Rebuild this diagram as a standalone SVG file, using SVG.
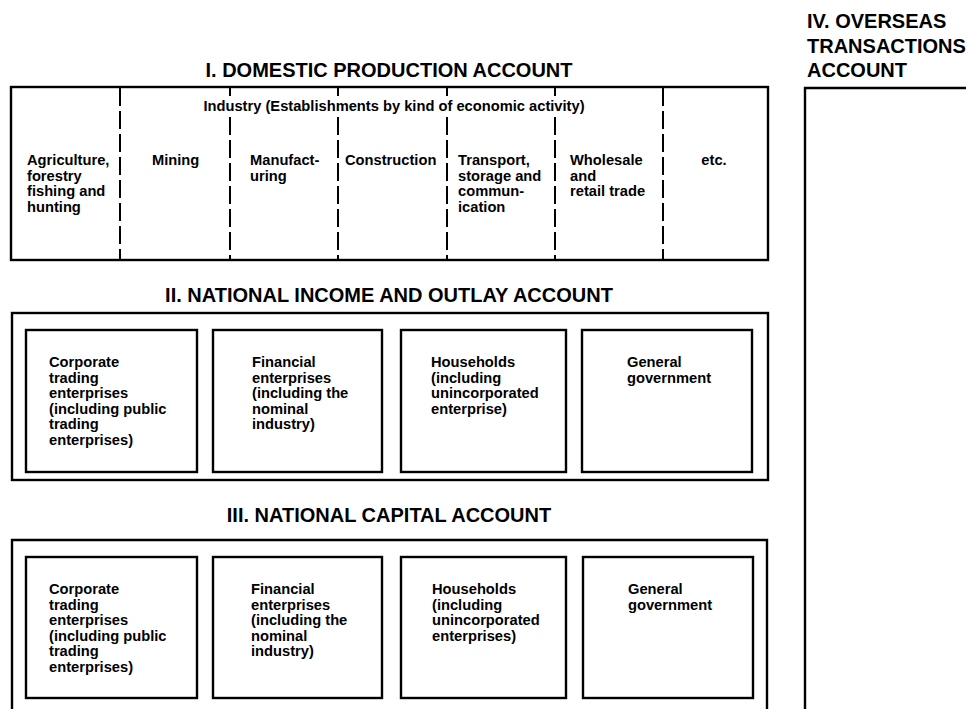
<svg xmlns="http://www.w3.org/2000/svg" width="966" height="709" viewBox="0 0 966 709">
<style>
.frame{fill:none;stroke:#000;stroke-width:2.4}
.box{fill:none;stroke:#000;stroke-width:2.4}
.div{fill:none;stroke:#000;stroke-width:2;stroke-dasharray:18 5}
.title{font-family:"Liberation Sans",Arial,sans-serif;font-weight:bold;font-size:20px;fill:#000}
.lbl{font-family:"Liberation Sans",Arial,sans-serif;font-weight:bold;font-size:14.7px;fill:#000}
</style>
<rect width="966" height="709" fill="#fff"/>

<g id="sec1">
  <text class="title" x="389" y="77" text-anchor="middle">I. DOMESTIC PRODUCTION ACCOUNT</text>
  <rect class="frame" x="11" y="87" width="757" height="173"/>
  <text class="lbl" x="394" y="111" text-anchor="middle" font-size="14">Industry (Establishments by kind of economic activity)</text>
  <path class="div" d="M120,88 V259"/>
  <path class="div" d="M230,88 V96 M230,117 V259"/>
  <path class="div" d="M338,88 V96 M338,117 V259"/>
  <path class="div" d="M447,88 V96 M447,117 V259"/>
  <path class="div" d="M555,88 V96 M555,117 V259"/>
  <path class="div" d="M663,88 V259"/>
  <g id="col-agri"><text class="lbl" x="27" y="165"><tspan x="27">Agriculture,</tspan><tspan x="27" dy="15.5">forestry</tspan><tspan x="27" dy="15.5">fishing and</tspan><tspan x="27" dy="15.5">hunting</tspan></text></g>
  <g id="col-mining"><text class="lbl" x="152" y="165">Mining</text></g>
  <g id="col-manuf"><text class="lbl" x="250" y="165"><tspan x="250">Manufact-</tspan><tspan x="250" dy="15.5">uring</tspan></text></g>
  <g id="col-constr"><text class="lbl" x="345" y="165" font-size="14.2">Construction</text></g>
  <g id="col-transport"><text class="lbl" x="458" y="165"><tspan x="458">Transport,</tspan><tspan x="458" dy="15.5">storage and</tspan><tspan x="458" dy="15.5">commun-</tspan><tspan x="458" dy="15.5">ication</tspan></text></g>
  <g id="col-trade"><text class="lbl" x="570" y="165"><tspan x="570">Wholesale</tspan><tspan x="570" dy="15.5">and</tspan><tspan x="570" dy="15.5">retail trade</tspan></text></g>
  <g id="col-etc"><text class="lbl" x="714" y="165" text-anchor="middle">etc.</text></g>
</g>

<g id="sec2">
  <text class="title" x="389" y="302" text-anchor="middle">II. NATIONAL INCOME AND OUTLAY ACCOUNT</text>
  <rect class="frame" x="12" y="313" width="756" height="167"/>
  <g id="s2-corp">
    <rect class="box" x="26" y="330" width="171" height="142"/>
    <text class="lbl" x="49" y="367"><tspan x="49">Corporate</tspan><tspan x="49" dy="15.5">trading</tspan><tspan x="49" dy="15.5">enterprises</tspan><tspan x="49" dy="15.5">(including public</tspan><tspan x="49" dy="15.5">trading</tspan><tspan x="49" dy="15.5">enterprises)</tspan></text>
  </g>
  <g id="s2-fin">
    <rect class="box" x="213" y="330" width="169" height="142"/>
    <text class="lbl" x="252" y="367"><tspan x="252">Financial</tspan><tspan x="252" dy="15.5">enterprises</tspan><tspan x="252" dy="15.5">(including the</tspan><tspan x="252" dy="15.5">nominal</tspan><tspan x="252" dy="15.5">industry)</tspan></text>
  </g>
  <g id="s2-hh">
    <rect class="box" x="401" y="330" width="165" height="142"/>
    <text class="lbl" x="431" y="367"><tspan x="431">Households</tspan><tspan x="431" dy="15.5">(including</tspan><tspan x="431" dy="15.5">unincorporated</tspan><tspan x="431" dy="15.5">enterprise)</tspan></text>
  </g>
  <g id="s2-gov">
    <rect class="box" x="582" y="330" width="170" height="142"/>
    <text class="lbl" x="627" y="367"><tspan x="627">General</tspan><tspan x="627" dy="15.5">government</tspan></text>
  </g>
</g>

<g id="sec3">
  <text class="title" x="389" y="522" text-anchor="middle">III. NATIONAL CAPITAL ACCOUNT</text>
  <path class="frame" d="M12,710 V540 H767 V710"/>
  <g id="s3-corp">
    <rect class="box" x="26" y="557" width="171" height="141"/>
    <text class="lbl" x="49" y="594"><tspan x="49">Corporate</tspan><tspan x="49" dy="15.5">trading</tspan><tspan x="49" dy="15.5">enterprises</tspan><tspan x="49" dy="15.5">(including public</tspan><tspan x="49" dy="15.5">trading</tspan><tspan x="49" dy="15.5">enterprises)</tspan></text>
  </g>
  <g id="s3-fin">
    <rect class="box" x="213" y="557" width="169" height="141"/>
    <text class="lbl" x="251" y="594"><tspan x="251">Financial</tspan><tspan x="251" dy="15.5">enterprises</tspan><tspan x="251" dy="15.5">(including the</tspan><tspan x="251" dy="15.5">nominal</tspan><tspan x="251" dy="15.5">industry)</tspan></text>
  </g>
  <g id="s3-hh">
    <rect class="box" x="401" y="557" width="165" height="141"/>
    <text class="lbl" x="432" y="594"><tspan x="432">Households</tspan><tspan x="432" dy="15.5">(including</tspan><tspan x="432" dy="15.5">unincorporated</tspan><tspan x="432" dy="15.5">enterprises)</tspan></text>
  </g>
  <g id="s3-gov">
    <rect class="box" x="583" y="557" width="170" height="141"/>
    <text class="lbl" x="628" y="594"><tspan x="628">General</tspan><tspan x="628" dy="15.5">government</tspan></text>
  </g>
</g>

<g id="sec4">
  <text class="title" x="807" y="28"><tspan x="807">IV. OVERSEAS</tspan><tspan x="807" dy="24.5">TRANSACTIONS</tspan><tspan x="807" dy="24.5">ACCOUNT</tspan></text>
  <path class="frame" d="M805,710 V88 H967"/>
</g>

<g id="connectors"/>
</svg>
